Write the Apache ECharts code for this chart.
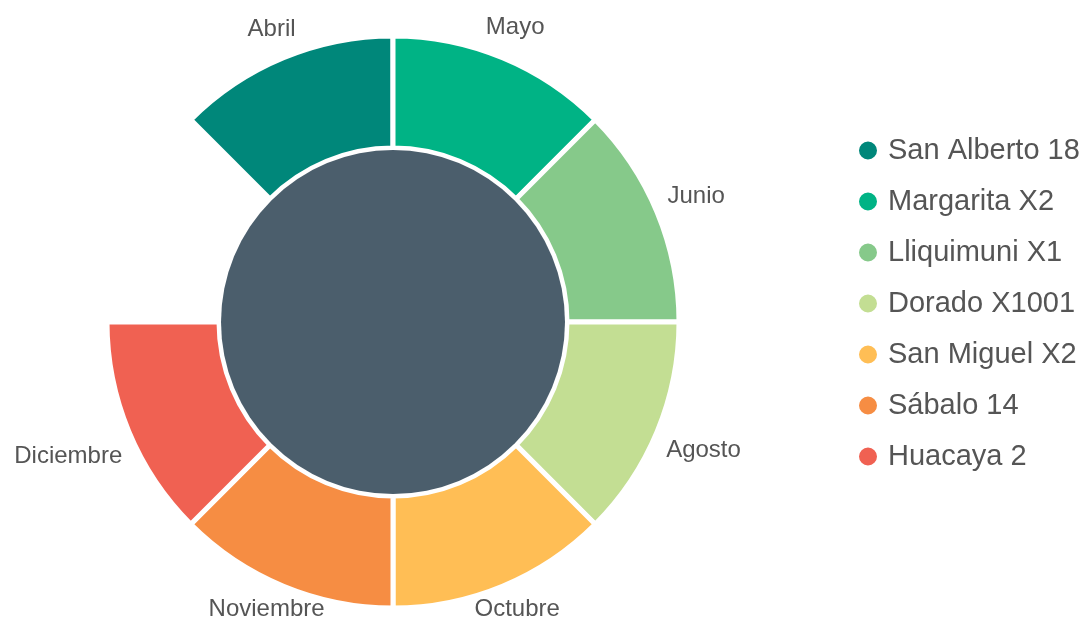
<!DOCTYPE html>
<html>
<head>
<meta charset="utf-8">
<script src="https://cdn.jsdelivr.net/npm/echarts@6/dist/echarts.min.js"></script>
<style>html,body{margin:0;padding:0;background:#fff}#c{width:1080px;height:621px}</style>
</head>
<body>
<div id="c"></div>
<script>
// Month label of each slot (clockwise from the upper-left); last slot is empty
const categories = ['Abril', 'Mayo', 'Junio', 'Agosto', 'Octubre', 'Noviembre', 'Diciembre'];
// Series (legend) names, one per slot
const seriesNames = ['San Alberto 18', 'Margarita X2', 'Lliquimuni X1', 'Dorado X1001', 'San Miguel X2', 'Sábalo 14', 'Huacaya 2'];
// Value of each slot
const seriesValues = [1, 1, 1, 1, 1, 1, 1];
// Value of the empty slot (gap at the upper-left)
const emptySlotValue = [1];
const colors = ['#00877a', '#00b385', '#86c98a', '#c3de93', '#ffbe55', '#f68d43', '#f06152'];

const FONT = 'Liberation Sans, Arial, Helvetica, sans-serif';
const CENTER = [393, 322];
const RING = [174, 286];
const LABEL_GAP = 11;
const W = 1080, H = 621;

const ringData = seriesNames.map((name, i) => ({
  name: name,
  value: seriesValues[i],
  itemStyle: { color: colors[i] }
})).concat(emptySlotValue.map(v => ({
  name: '__empty__',
  value: v,
  itemStyle: { color: 'rgba(0,0,0,0)', borderWidth: 0 },
  label: { show: false }
})));

// Place each label so its box just touches a circle around the ring, along the slice's mid-angle
function placeLabel(params) {
  const r = params.labelRect;
  if (!r) return {};
  const ax = params.align === 'right' ? r.x + r.width : r.x;
  const ay = r.y + r.height / 2;
  let ux = ax - CENTER[0], uy = ay - CENTER[1];
  const len = Math.sqrt(ux * ux + uy * uy) || 1;
  ux /= len; uy /= len;
  const ext = r.width / 2 * Math.abs(ux) + r.height / 2 * Math.abs(uy);
  const d = RING[1] + LABEL_GAP + ext;
  let x = CENTER[0] + d * ux;
  let y = CENTER[1] + d * uy;
  y = Math.min(Math.max(y, r.height / 2), H - r.height / 2);
  x = Math.min(Math.max(x, r.width / 2), W - r.width / 2);
  return { x: x, y: y, align: 'center', verticalAlign: 'middle' };
}

const chart = echarts.init(document.getElementById('c'), null, { renderer: 'canvas' });
chart.setOption({
  animation: false,
  color: colors,
  textStyle: { fontFamily: FONT },
  legend: {
    data: seriesNames,
    orient: 'vertical',
    left: 852,
    top: 131,
    icon: 'circle',
    itemWidth: 30,
    itemHeight: 20,
    itemGap: 22,
    selectedMode: false,
    textStyle: { fontSize: 29, color: '#555555', fontFamily: FONT }
  },
  series: [{
    type: 'pie',
    name: 'anillo',
    center: CENTER,
    radius: RING,
    startAngle: 135,
    clockwise: true,
    avoidLabelOverlap: false,
    data: ringData,
    itemStyle: { borderColor: '#ffffff', borderWidth: 5 },
    emphasis: { disabled: true },
    label: {
      show: true,
      position: 'outside',
      distanceToLabelLine: 0,
      formatter: p => categories[p.dataIndex] || '',
      fontSize: 24,
      color: '#555555',
      fontFamily: FONT
    },
    labelLine: { show: false, length: 0, length2: 0 },
    labelLayout: placeLabel
  }, {
    type: 'pie',
    name: 'centro',
    center: CENTER,
    radius: [0, 172],
    silent: true,
    label: { show: false },
    labelLine: { show: false },
    itemStyle: { color: '#4b5e6c' },
    data: [{ value: 1, name: 'centro' }]
  }]
});
</script>
</body>
</html>
